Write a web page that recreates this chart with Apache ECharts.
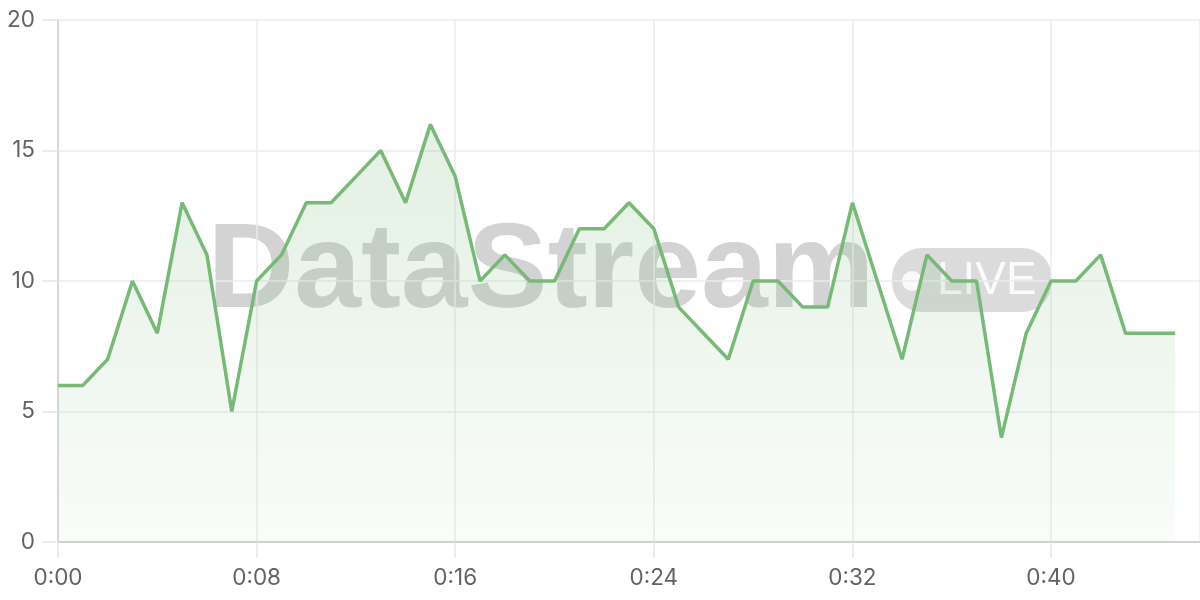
<!DOCTYPE html>
<html>
<head>
<meta charset="utf-8">
<script src="https://cdn.jsdelivr.net/npm/echarts@6/dist/echarts.min.js"></script>
<style>html,body{margin:0;padding:0;background:#fff}#c{width:1200px;height:600px}</style>
</head>
<body>
<div id="c"></div>
<script>
// seconds elapsed (index) and sampled values
const seconds = [0,1,2,3,4,5,6,7,8,9,10,11,12,13,14,15,16,17,18,19,20,21,22,23,24,25,26,27,28,29,30,31,32,33,34,35,36,37,38,39,40,41,42,43,44,45];
const values  = [6,6,7,10,8,13,11,5,10,11,13,13,14,15,13,16,14,10,11,10,10,12,12,13,12,9,8,7,10,10,9,9,13,10,7,11,10,10,4,8,10,10,11,8,8,8];
const xTicks = ['0:00','0:08','0:16','0:24','0:32','0:40'];
const yTicks = [0,5,10,15,20];

const fontFamily = 'Inter, "Liberation Sans", sans-serif';
const chart = echarts.init(document.getElementById('c'));
chart.setOption({
  animation: false,
  grid: { left: 58, right: 0, top: 20, bottom: 58 },
  xAxis: {
    type: 'value', min: 0, max: 46, interval: 8,
    axisLine: { show: true, lineStyle: { color: '#d2d2d2', width: 2 } },
    axisTick: { show: true, length: 16, lineStyle: { color: '#e6e6e6', width: 1.5 } },
    splitLine: { show: true, lineStyle: { color: '#ebebeb', width: 1.5 } },
    axisLabel: {
      color: '#636363', fontSize: 22.5, fontFamily, margin: 25,
      showMaxLabel: false,
      formatter: v => xTicks[v / 8] || ''
    }
  },
  yAxis: {
    type: 'value', min: 0, max: 20, interval: 5,
    axisLine: { show: true, lineStyle: { color: '#d8d8d8', width: 2 } },
    axisTick: { show: true, length: 16, lineStyle: { color: '#e6e6e6', width: 1.5 } },
    splitLine: { show: true, lineStyle: { color: '#ebebeb', width: 1.5 } },
    axisLabel: { color: '#636363', fontSize: 22.5, fontFamily, margin: 23,
      formatter: v => yTicks.includes(v) ? String(v) : '' }
  },
  graphic: [
    { type: 'text', z: 0, x: 541, y: 274,
      style: { text: 'DataStream', fill: 'rgba(110,110,110,0.30)', font: 'bold 120px "Liberation Sans", Arial, sans-serif', align: 'center', verticalAlign: 'middle' } },
    { type: 'rect', z: 0, shape: { x: 892, y: 248, width: 160, height: 64, r: 30 },
      style: { fill: 'rgba(110,110,110,0.25)' } },
    { type: 'circle', z: 0, shape: { cx: 912, cy: 281, r: 10 },
      style: { fill: 'rgba(255,255,255,0.85)' } },
    { type: 'text', z: 0, x: 937, y: 281,
      style: { text: 'LIVE', fill: 'rgba(255,255,255,0.9)', font: '46px "Liberation Sans", Arial, sans-serif', align: 'left', verticalAlign: 'middle' } }
  ],
  series: [{
    type: 'line',
    data: seconds.map((s, i) => [s, values[i]]),
    showSymbol: false,
    symbol: 'none',
    lineStyle: { color: '#78b978', width: 3.5 },
    itemStyle: { color: '#78b978' },
    areaStyle: {
      color: new echarts.graphic.LinearGradient(0, 0, 0, 1, [
        { offset: 0, color: 'rgba(120,185,120,0.30)' },
        { offset: 1, color: 'rgba(120,185,120,0.06)' }
      ])
    },
    z: 2
  }]
});
</script>
</body>
</html>
